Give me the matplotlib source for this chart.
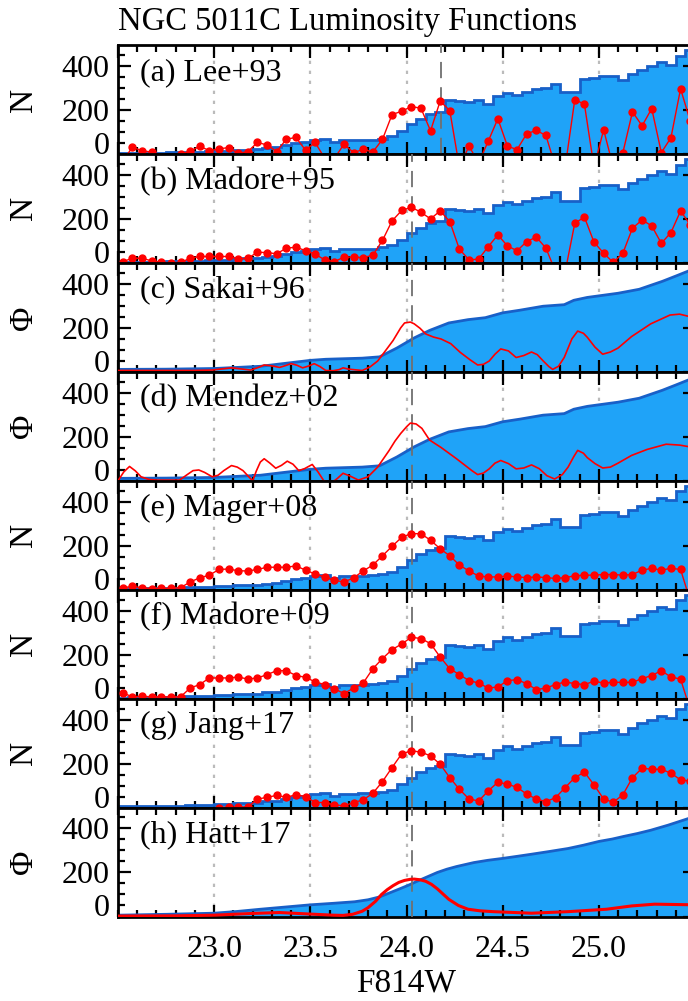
import numpy as np
import matplotlib
matplotlib.use('Agg')
import matplotlib.pyplot as plt
from matplotlib.ticker import MultipleLocator

plt.rcParams['font.family'] = ['Liberation Serif', 'DejaVu Serif']

# ---- data ----
panel_names = ['(a) Lee+93', '(b) Madore+95', '(c) Sakai+96', '(d) Mendez+02',
               '(e) Mager+08', '(f) Madore+09', '(g) Jang+17', '(h) Hatt+17']
panel_ylab = ['N', 'N', 'Φ', 'Φ', 'N', 'N', 'N', 'Φ']
trgb = [24.18, 24.03, 24.03, 24.03, 24.03, 24.03, 24.03, 24.03]
grid_x = [23.0, 23.5, 24.0, 24.5, 25.0]

# binned luminosity function (0.05 mag bins, 22.50 - 25.50)
bin_edges = np.round(np.arange(22.50, 25.501, 0.05), 3)
bin_mid = bin_edges[:-1] + 0.025
hist_n = [5, 6, 6, 6, 6, 8, 8, 10, 10, 12,
          15, 15, 20, 20, 22, 28, 30, 40, 48, 52,
          62, 66, 52, 62, 62, 64, 65, 70, 82, 105,
          135, 160, 182, 190, 244, 241, 236, 244, 226, 262,
          278, 266, 282, 295, 299, 320, 283, 283, 340, 345,
          352, 352, 334, 362, 382, 400, 416, 406, 447, 472]

# edge-detection responses (one value per bin)
edge_lee93 = [-30, 30, 15, 8, -30, -30, 0, 12, 35, 15,
              23, 29, 2, 11, 52, 41, 11, 67, 75, 17,
              52, -20, -20, 44, 6, 21, 9, 66, 179, 194,
              215, 208, 105, 240, 197, -60, 35, -40, 58, 160,
              35, 20, 92, 107, 84, -60, -60, 247, 226, -60,
              110, -60, 6, 191, 128, 206, 6, 74, 296, 150]
edge_madore95 = [6, 21, 21, 9, 2, 0, 2, 21, 29, 29,
                 29, 29, 18, 21, 48, 47, 41, 67, 71, 56,
                 39, 14, 6, 26, 26, 24, 35, 102, 191, 238,
                 253, 230, 200, 236, 188, 62, 14, 17, 74, 127,
                 77, 55, 97, 117, 67, -40, -40, 180, 208, 94,
                 44, 2, 44, 158, 195, 168, 89, 138, 236, 173]
edge_mager08 = [9, 15, 9, 5, 6, 6, 9, 35, 54, 66,
                92, 94, 86, 85, 92, 102, 102, 102, 108, 89,
                71, 58, 43, 35, 54, 85, 112, 154, 197, 238,
                255, 254, 225, 186, 154, 112, 85, 62, 58, 58,
                62, 58, 55, 58, 55, 51, 55, 63, 66, 66,
                69, 69, 66, 69, 89, 97, 89, 97, 92, -50]
edge_madore09 = [26, 8, 11, 8, 8, 8, 8, 48, 64, 94,
                 94, 94, 98, 89, 94, 109, 127, 127, 105, 97,
                 76, 64, 45, 23, 48, 71, 136, 182, 223, 248,
                 279, 273, 250, 189, 136, 109, 82, 71, 48, 53,
                 82, 86, 68, 41, 48, 64, 76, 68, 64, 79,
                 71, 74, 74, 74, 91, 105, 127, 98, 89, -50]
edge_jang17 = [-20, -20, -20, -20, -20, -20, -20, -20, -20, -20,
               0, 2, 2, 3, 38, 47, 55, 47, 58, 50,
               23, 23, 12, 8, 23, 35, 65, 118, 182, 244,
               258, 252, 235, 197, 136, 83, 39, 30, 76, 115,
               106, 92, 61, 39, 27, 45, 91, 136, 161, 103,
               39, 24, 58, 136, 179, 174, 174, 156, 126, 120]

# smoothed luminosity function (panels c, d)
smooth_mag = [22.50, 22.75, 23.00, 23.24, 23.50, 23.58, 23.77, 23.86, 23.95, 24.04,
              24.12, 24.22, 24.32, 24.41, 24.50, 24.59, 24.71, 24.82, 24.87, 24.94,
              25.10, 25.21, 25.33, 25.40, 25.50]
smooth_phi = [11, 12, 15, 25, 52, 57, 62, 68, 108, 154,
              188, 222, 237, 246, 268, 280, 298, 305, 325, 338,
              357, 375, 411, 435, 470]

sakai_mag = [22.50, 22.70, 22.89, 22.99, 23.04, 23.09, 23.15, 23.19, 23.23, 23.26,
             23.30, 23.34, 23.37, 23.40, 23.43, 23.46, 23.49, 23.52, 23.55, 23.58,
             23.62, 23.65, 23.67, 23.70, 23.77, 23.81, 23.85, 23.89, 23.93, 23.97,
             23.99, 24.02, 24.04, 24.07, 24.10, 24.14, 24.18, 24.23, 24.28, 24.33,
             24.37, 24.40, 24.43, 24.46, 24.49, 24.53, 24.57, 24.61, 24.65, 24.68,
             24.71, 24.74, 24.76, 24.79, 24.82, 24.86, 24.89, 24.92, 24.94, 24.98,
             25.02, 25.06, 25.10, 25.17, 25.27, 25.37, 25.42, 25.50]
sakai_phi = [6, 6, 6, 8, 13, 18, 12, 8, 20, 31,
             27, 20, 28, 37, 30, 18, 26, 37, 24, 6,
             5, 10, 18, 12, 6, 22, 49, 95, 142, 200,
             222, 226, 218, 198, 172, 158, 149, 128, 88, 55,
             31, 34, 49, 80, 104, 95, 65, 74, 90, 78,
             50, 24, 11, 25, 65, 150, 185, 175, 157, 112,
             80, 90, 108, 160, 218, 258, 262, 245]

mendez_mag = [22.50, 22.53, 22.56, 22.59, 22.62, 22.66, 22.70, 22.82, 22.86, 22.89,
              22.92, 22.95, 22.99, 23.02, 23.05, 23.09, 23.12, 23.15, 23.18, 23.20,
              23.22, 23.24, 23.26, 23.29, 23.32, 23.35, 23.38, 23.41, 23.44, 23.47,
              23.51, 23.54, 23.57, 23.61, 23.64, 23.67, 23.71, 23.75, 23.80, 23.85,
              23.88, 23.91, 23.94, 23.97, 24.00, 24.02, 24.05, 24.08, 24.12, 24.18,
              24.26, 24.34, 24.37, 24.40, 24.43, 24.46, 24.49, 24.53, 24.57, 24.61,
              24.65, 24.69, 24.73, 24.77, 24.81, 24.84, 24.87, 24.89, 24.92, 24.94,
              24.98, 25.02, 25.06, 25.10, 25.17, 25.25, 25.35, 25.42, 25.50]
mendez_phi = [0, 40, 65, 45, 18, 6, 3, 3, 28, 46,
              49, 38, 18, 25, 46, 69, 62, 46, 18, 0,
              46, 85, 100, 80, 57, 70, 89, 75, 46, 55,
              74, 40, 0, -10, 10, 34, 20, 3, 18, 62,
              100, 138, 180, 215, 245, 262, 258, 238, 185, 151,
              100, 46, 28, 35, 54, 80, 92, 78, 54, 58,
              72, 55, 23, 8, 28, 62, 110, 138, 125, 105,
              78, 58, 62, 80, 115, 142, 166, 162, 150]

hatt_mag = [22.50, 22.75, 23.00, 23.12, 23.24, 23.37, 23.50, 23.62, 23.73, 23.80,
            23.86, 23.96, 24.01, 24.06, 24.11, 24.16, 24.21, 24.26, 24.35, 24.42,
            24.50, 24.58, 24.65, 24.74, 24.84, 24.92, 25.00, 25.07, 25.13, 25.20,
            25.27, 25.36, 25.50]
hatt_phi = [6, 10, 15, 23, 33, 43, 53, 60, 67, 76,
            89, 124, 142, 162, 181, 200, 215, 227, 245, 255,
            264, 274, 283, 295, 309, 324, 341, 352, 364, 377,
            392, 415, 455]
hatt_edge_mag = [22.50, 22.80, 23.00, 23.20, 23.34, 23.50, 23.62, 23.67, 23.72, 23.77,
                 23.80, 23.84, 23.87, 23.90, 23.93, 23.96, 23.99, 24.02, 24.04, 24.07,
                 24.10, 24.13, 24.16, 24.19, 24.22, 24.27, 24.32, 24.38, 24.45, 24.65,
                 24.84, 25.04, 25.17, 25.29, 25.50]
hatt_edge = [2, 3, 6, 14, 18, 11, 6, 5, 10, 24,
             40, 70, 100, 122, 140, 155, 164, 169, 170, 167,
             160, 146, 126, 102, 78, 50, 33, 26, 22, 15,
             22, 33, 48, 56, 53]

# ---- figure ----
fill_c = '#1FA3F8'
edge_c = '#1860C8'
red_c = '#FF0000'

fig = plt.figure(figsize=(6.88, 10.01), dpi=100)
left, width = 118 / 688, 577 / 688
top, bottom = 1 - 45 / 1001, 1 - 916.5 / 1001
h = (top - bottom) / 8

edge_series = {0: edge_lee93, 1: edge_madore95, 4: edge_mager08,
               5: edge_madore09, 6: edge_jang17}

for i in range(8):
    ax = fig.add_axes([left, top - (i + 1) * h, width, h])
    for gx in grid_x:
        ax.axvline(gx, color='#BBBBBB', ls=(0, (1.5, 3)), lw=1.6, zorder=0)

    if i in edge_series:
        ax.stairs(hist_n, bin_edges, fill=True, color=fill_c, zorder=1)
        ax.stairs(hist_n, bin_edges, color=edge_c, lw=2, zorder=2)
        ax.plot(bin_mid, edge_series[i], '-o', color=red_c, lw=1, ms=5,
                zorder=4)
    elif i in (2, 3):
        ax.fill_between(smooth_mag, smooth_phi, 0, color=fill_c, lw=0, zorder=1)
        ax.plot(smooth_mag, smooth_phi, color=edge_c, lw=2, zorder=2)
        if i == 2:
            ax.plot(sakai_mag, sakai_phi, color=red_c, lw=1.2, zorder=4)
        else:
            ax.plot(mendez_mag, mendez_phi, color=red_c, lw=1.2, zorder=4)
    else:
        ax.fill_between(hatt_mag, hatt_phi, 0, color=fill_c, lw=0, zorder=1)
        ax.plot(hatt_mag, hatt_phi, color=edge_c, lw=2, zorder=2)
        ax.plot(hatt_edge_mag, hatt_edge, color=red_c, lw=2.2, zorder=4)

    ax.axvline(trgb[i], color='#707070', ls=(0, (9, 5)), lw=1.3, zorder=3)

    ax.set_xlim(22.5, 25.5)
    ax.set_ylim(0, 495)
    ax.set_yticks([0, 200, 400])
    ax.yaxis.set_minor_locator(MultipleLocator(50))
    ax.xaxis.set_major_locator(MultipleLocator(0.5))
    ax.xaxis.set_minor_locator(MultipleLocator(0.1))
    ax.tick_params(which='both', direction='in', top=True, right=True,
                   width=1.6, labelsize=23, pad=6)
    ax.tick_params(which='major', length=9)
    ax.tick_params(which='minor', length=5)
    ax.yaxis.get_major_ticks()[0].label1.set_va('baseline')
    for s in ax.spines.values():
        s.set_linewidth(2)

    ax.text(0.038, 0.75, panel_names[i], transform=ax.transAxes,
            fontsize=23, va='center', ha='left', zorder=6)
    ax.set_ylabel(panel_ylab[i], fontsize=24)
    ax.yaxis.label.set_va('center')
    ax.yaxis.set_label_coords(-0.163, 0.5)

    if i < 7:
        ax.tick_params(labelbottom=False)
    else:
        ax.set_xticks([23.0, 23.5, 24.0, 24.5, 25.0])
        ax.set_xticklabels(['23.0', '23.5', '24.0', '24.5', '25.0'])
        ax.tick_params(axis='x', pad=13)
        ax.set_xlabel('F814W', fontsize=24, labelpad=3)

fig.text(118 / 688, 1 - 30 / 1001, 'NGC 5011C Luminosity Functions',
         fontsize=23.5, ha='left', va='baseline')

fig.savefig('out.png', dpi=100)
